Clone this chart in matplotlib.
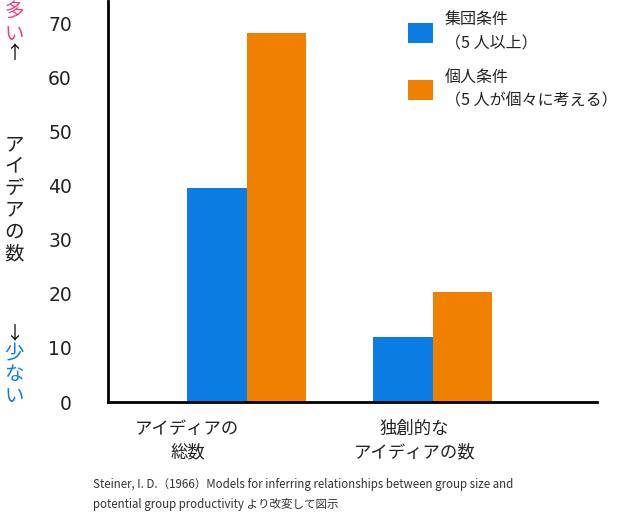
import matplotlib
matplotlib.use("Agg")
import matplotlib.pyplot as plt
import numpy as np

plt.rcParams['font.family'] = ['Noto Sans CJK JP', 'DejaVu Sans']

# data
categories = ["アイディアの\n総数", "独創的な\nアイディアの数"]
series_names = ["集団条件\n（5 人以上）", "個人条件\n（5 人が個々に考える）"]
group_vals = [39.5, 12.0]
indiv_vals = [68.2, 20.3]
yticks = [0, 10, 20, 30, 40, 50, 60, 70]

BLUE = "#0b7de2"
ORANGE = "#f08000"
PINK = "#e8407e"

W, H = 617, 513
fig = plt.figure(figsize=(W / 100, H / 100), dpi=100)
ax = fig.add_axes([108 / W, 1 - 402 / H, (597 - 108) / W, (402 - 1) / H])

x = np.arange(len(categories))
w = 0.32
b1 = ax.bar(x - w / 2, group_vals, w, color=BLUE, label=series_names[0])
b2 = ax.bar(x + w / 2, indiv_vals, w, color=ORANGE, label=series_names[1])

ax.set_xlim(-0.747, 1.882)
ax.set_ylim(0, 74.07)
ax.set_yticks(yticks)
ax.set_yticklabels([str(v) for v in yticks], fontsize=13.5, family="DejaVu Sans",
                   color="#222222")
ax.tick_params(axis="y", length=0, pad=26)
ax.set_xticks([])
for s in ("top", "right"):
    ax.spines[s].set_visible(False)
for s in ("left", "bottom"):
    ax.spines[s].set_linewidth(2)

# category labels (sit left of the bar pairs in the original)
label_x = [-0.32, 0.90]
for lx, lab in zip(label_x, categories):
    ax.text(lx, -0.045, lab, transform=ax.get_xaxis_transform(), ha="center",
            va="top", fontsize=12.5, linespacing=1.4, color="#222222")

leg = ax.legend(handles=[b1, b2], loc="upper left", bbox_to_anchor=(0.6, 0.99),
                frameon=False, fontsize=11.5, handlelength=1.56, handleheight=1.56,
                handletextpad=0.75, labelspacing=1.0, borderaxespad=0)
for t in leg.get_texts():
    t.set_linespacing(1.55)
    t.set_color("#222222")

# vertical y-axis caption, one character per row; each piece sits just below the last
renderer = fig.canvas.get_renderer()

def vstack(ytop_px, parts, ls=1.05):
    y = 1 - ytop_px / H
    for s, color, sz in parts:
        t = fig.text(14 / W, y, "\n".join(s), ha="center", va="top", fontsize=sz,
                     color=color, linespacing=ls)
        bb = t.get_window_extent(renderer)
        y = bb.y0 / fig.dpi / fig.get_figheight()

vstack(2, [("多い", PINK, 14), ("↑", "black", 13)])
vstack(134, [("アイデアの数", "#222222", 14)])
vstack(324, [("↓", "black", 13), ("少ない", BLUE, 14)])

fig.text(93 / W, 1 - 511 / H, "Steiner, I. D.（1966）Models for inferring relationships between group size and\n"
         "potential group productivity より改変して図示", fontsize=8.3, color="#333333",
         ha="left", va="bottom", linespacing=1.7)

fig.savefig("out.png", dpi=100)
